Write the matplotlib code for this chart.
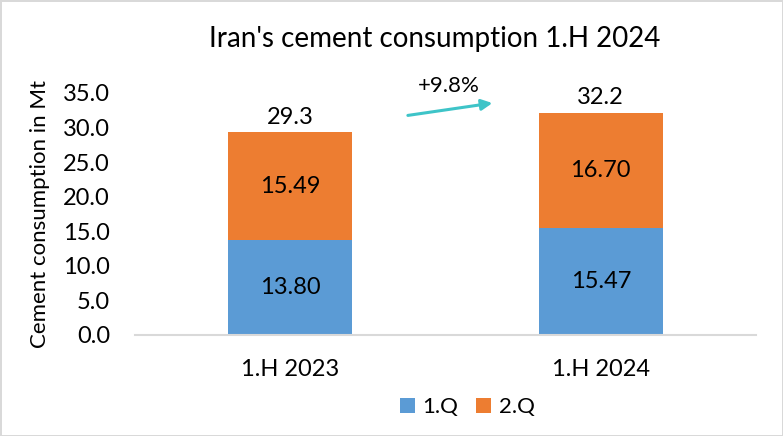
import matplotlib.pyplot as plt

# values
periods = ["1.H 2023", "1.H 2024"]
q1 = [13.80, 15.47]
q2 = [15.49, 16.70]
totals = [a + b for a, b in zip(q1, q2)]
growth_label = "+9.8%"

plt.rcParams['font.family'] = ['Lato', 'DejaVu Sans']

fig = plt.figure(figsize=(7.83, 4.36), dpi=100)
fig.patch.set_edgecolor("#d9d9d9")
fig.patch.set_linewidth(2)
ax = fig.add_axes([0.1724, 0.2317, 0.7931, 0.555])

x = list(range(len(periods)))
bar_w = 0.4
ax.bar(x, q1, width=bar_w, color="#5B9BD5", label="1.Q")
ax.bar(x, q2, width=bar_w, bottom=q1, color="#ED7D31", label="2.Q")

for i in x:
    ax.text(i, q1[i] / 2, f"{q1[i]:.2f}", ha="center", va="center", fontsize=17)
    ax.text(i, q1[i] + q2[i] / 2, f"{q2[i]:.2f}", ha="center", va="center", fontsize=17)
    ax.text(i, totals[i] + 0.6, f"{totals[i]:.1f}", ha="center", va="bottom", fontsize=17)

# growth arrow between bars
ax.annotate("", xy=(0.66, 33.6), xytext=(0.37, 31.7),
            arrowprops=dict(arrowstyle="-|>", color="#3EC4C8", lw=2.2,
                            mutation_scale=16), annotation_clip=False)
ax.text(0.51, 36.0, growth_label, ha="center", va="center", fontsize=16, clip_on=False)

ax.set_xlim(-0.5, 1.5)
ax.set_ylim(0, 35)
ax.set_yticks([0, 5, 10, 15, 20, 25, 30, 35])
ax.set_yticklabels([f"{v:.1f}" for v in ax.get_yticks()])
ax.set_xticks(x)
ax.set_xticklabels(periods)
ax.tick_params(axis="both", length=0, labelsize=17, colors="#000000")
ax.tick_params(axis="x", pad=17)
ax.tick_params(axis="y", pad=18)

for s in ["top", "right", "left"]:
    ax.spines[s].set_visible(False)
ax.spines["bottom"].set_color("#d9d9d9")
ax.spines["bottom"].set_linewidth(1.5)

ax.set_ylabel("Cement consumption in Mt", fontsize=16, labelpad=9)
fig.text(0.555, 0.91, "Iran's cement consumption 1.H 2024", ha="center", va="center", fontsize=20)

fig.legend(loc="center", bbox_to_anchor=(0.597, 0.066), ncol=2, frameon=False,
           fontsize=16, handlelength=0.65, handleheight=0.65, columnspacing=0.8,
           handletextpad=0.35)

fig.savefig("out.png", dpi=100, edgecolor=fig.get_edgecolor())
